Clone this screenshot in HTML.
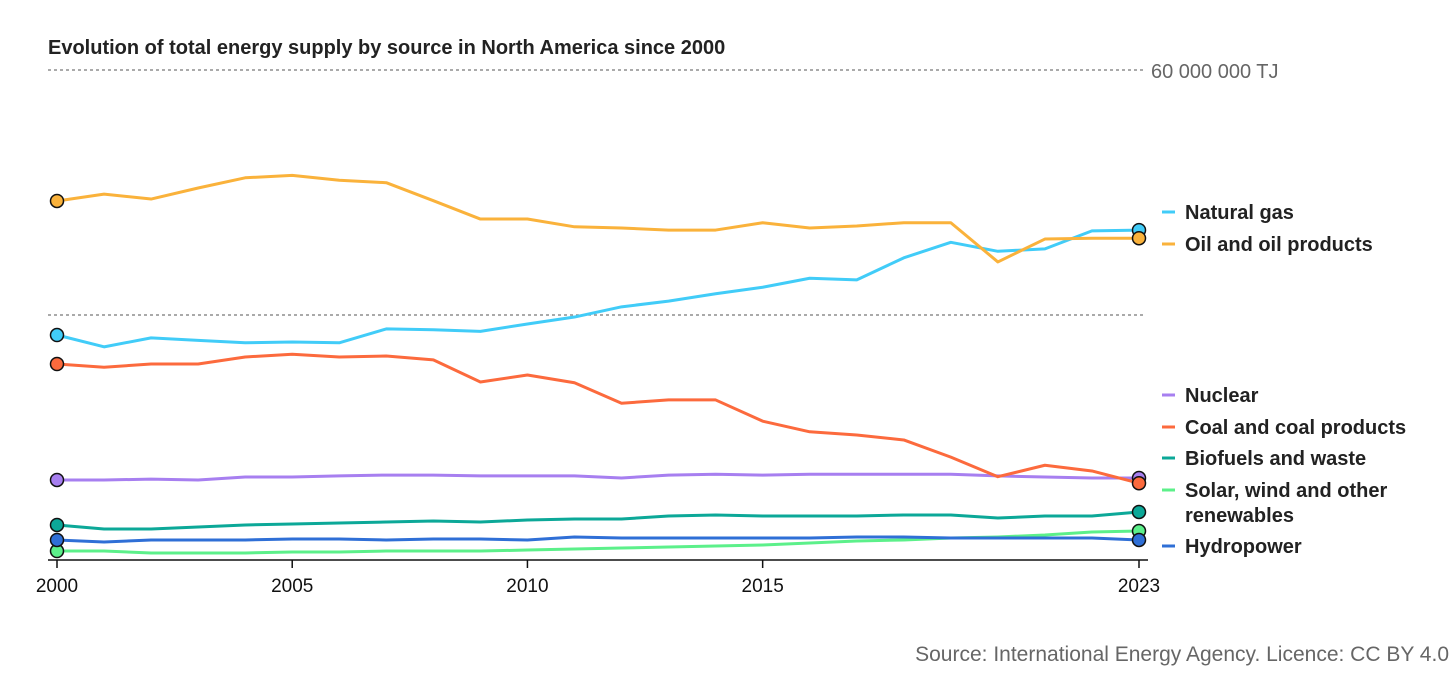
<!DOCTYPE html>
<html><head><meta charset="utf-8"><style>
body{margin:0;background:#fff;font-family:"Liberation Sans",sans-serif;}
svg text{font-family:"Liberation Sans",sans-serif;}
</style></head><body>
<svg id="chart" width="1456" height="677">
<text x="48" y="54" font-size="20" font-weight="bold" fill="#222">Evolution of total energy supply by source in North America since 2000</text>
<text x="1449" y="661" font-size="21" fill="#666" text-anchor="end">Source: International Energy Agency. Licence: CC BY 4.0</text>
<g id="grid"></g><g id="series"></g><g id="legend"></g><g id="xaxis"></g>
</svg>
<script>
const years=[2000,2001,2002,2003,2004,2005,2006,2007,2008,2009,2010,2011,2012,2013,2014,2015,2016,2017,2018,2019,2020,2021,2022,2023];
const oil=[43.96,44.8,44.2,45.55,46.8,47.1,46.5,46.2,44.0,41.75,41.75,40.8,40.65,40.4,40.4,41.3,40.65,40.9,41.3,41.3,36.5,39.3,39.4,39.4];
const gas=[27.55,26.1,27.2,26.9,26.6,26.7,26.6,28.3,28.2,28.0,28.9,29.75,31.0,31.7,32.6,33.4,34.5,34.3,37.0,38.9,37.8,38.1,40.3,40.4];
const coal=[24.0,23.6,24.0,24.0,24.86,25.2,24.86,24.98,24.5,21.8,22.65,21.7,19.2,19.6,19.6,17.0,15.7,15.3,14.7,12.6,10.2,11.6,10.9,9.4];
const nuclear=[9.8,9.8,9.9,9.8,10.16,10.16,10.3,10.4,10.4,10.3,10.3,10.3,10.04,10.4,10.5,10.4,10.5,10.5,10.5,10.5,10.3,10.16,10.04,10.04];
const biofuels=[4.29,3.8,3.8,4.04,4.29,4.41,4.53,4.65,4.78,4.65,4.9,5.02,5.02,5.39,5.51,5.39,5.39,5.39,5.51,5.51,5.14,5.39,5.39,5.88];
const hydro=[2.45,2.2,2.45,2.45,2.45,2.57,2.57,2.45,2.57,2.57,2.45,2.82,2.69,2.69,2.69,2.69,2.69,2.82,2.82,2.69,2.69,2.69,2.69,2.45];
const solar=[1.1,1.1,0.86,0.86,0.86,0.98,0.98,1.1,1.1,1.1,1.22,1.35,1.47,1.59,1.71,1.84,2.08,2.33,2.45,2.69,2.82,3.06,3.43,3.55];
const yTicks=[30,60];
const xTicks=[2000,2005,2010,2015,2020,2023];
const xTickLabels=["2000","2005","2010","2015","","2023"];
const legendLabels=[["Natural gas"],["Oil and oil products"],["Nuclear"],["Coal and coal products"],["Biofuels and waste"],["Solar, wind and other","renewables"],["Hydropower"]];

const NS="http://www.w3.org/2000/svg";
const X=y=>57+(y-2000)*(1139-57)/23;
const Y=v=>560-v*490/60;
function mk(tag,attrs,parent){const e=document.createElementNS(NS,tag);for(const k in attrs)e.setAttribute(k,attrs[k]);parent.appendChild(e);return e;}
const grid=document.getElementById('grid'),ser=document.getElementById('series'),leg=document.getElementById('legend'),xa=document.getElementById('xaxis');
yTicks.forEach(t=>{
  const l=mk('line',{x1:48,x2:1145,y1:Y(t),y2:Y(t),stroke:'#777','stroke-dasharray':'3,3','stroke-width':1.2},grid);
  
  
});
const topLbl=mk('text',{x:1151,y:Y(60)+8,'font-size':20,fill:'#666'},grid);
topLbl.textContent='60 000 000 TJ';


const series=[
 {n:'solar',d:solar,c:'#5cf08a'},
 {n:'hydro',d:hydro,c:'#2f6fd6'},
 {n:'biofuels',d:biofuels,c:'#0ca898'},
 {n:'nuclear',d:nuclear,c:'#a77ff0'},
 {n:'coal',d:coal,c:'#fc6a3d'},
 {n:'gas',d:gas,c:'#41ccf8'},
 {n:'oil',d:oil,c:'#fab23b'}];
series.forEach(s=>{
  const p=mk('polyline',{points:s.d.map((v,i)=>X(years[i])+','+Y(v)).join(' '),fill:'none',stroke:s.c,'stroke-width':3,'stroke-linejoin':'round'},ser);
  
  
  [0,s.d.length-1].forEach(i=>{
    const c=mk('circle',{cx:X(years[i]),cy:Y(s.d[i]),r:6.5,fill:s.c,stroke:'#111','stroke-width':1.5},ser);
    
    
  });
});
const legColors=['#41ccf8','#fab23b','#a77ff0','#fc6a3d','#0ca898','#5cf08a','#2f6fd6'];
const legY=[212,244,395,427,458,490,546];
legendLabels.forEach((lab,i)=>{
  const g=mk('g',{},leg);
  
  
  mk('line',{x1:1162,x2:1175,y1:legY[i],y2:legY[i],stroke:legColors[i],'stroke-width':3},g);
  lab.forEach((t,j)=>{const tx=mk('text',{x:1185,y:legY[i]+7+j*25,'font-size':20,'font-weight':'bold',fill:'#222'},g);tx.textContent=t;});
});
const ax=mk('line',{x1:48,x2:1148,y1:560,y2:560,stroke:'#111','stroke-width':1.5},xa);


xTicks.forEach((t,i)=>{
  if(!xTickLabels[i])return;
  mk('line',{x1:X(t),x2:X(t),y1:560,y2:568,stroke:'#111','stroke-width':1.5},xa);
  const tx=mk('text',{x:X(t),y:592,'font-size':19,'text-anchor':'middle',fill:'#111'},xa);
  tx.textContent=xTickLabels[i];
  
  
});
</script>
</body></html>
